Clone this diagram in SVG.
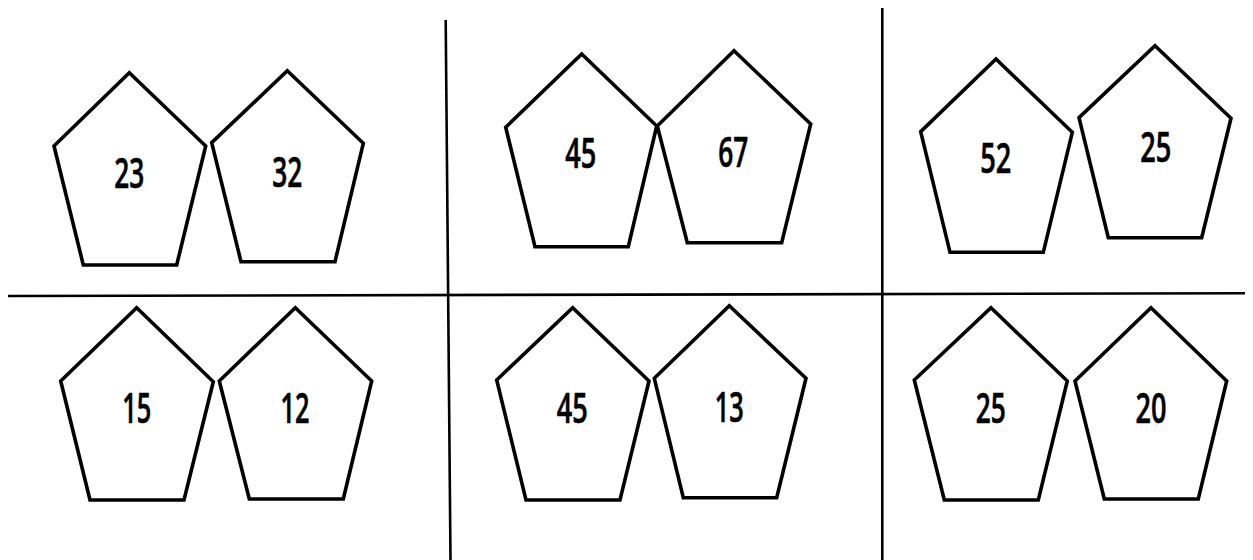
<svg xmlns="http://www.w3.org/2000/svg" width="1253" height="560" viewBox="0 0 1253 560">
<style>
.p{fill:#fff;stroke:#000;stroke-width:3.6;stroke-linejoin:miter}
.t{font-family:"Open Sans","Liberation Sans",sans-serif;font-size:42px;font-weight:600;fill:#000;stroke:#000;stroke-width:0.6;text-anchor:middle}
.l{stroke:#000;stroke-width:2.6;fill:none}
</style>
<rect width="1253" height="560" fill="#fff"/>
<g id="dividers">
<line class="l" x1="8" y1="296" x2="1245" y2="293.3"/>
<line class="l" x1="445.7" y1="20" x2="450.5" y2="560"/>
<line class="l" x1="882.3" y1="8" x2="882.3" y2="560"/>
</g>
<g id="n23"><polygon class="p" points="129.3,72.7 205.7,146 176.7,265 83.3,265 54,146"/><text class="t" x="129.3" y="188" textLength="30" lengthAdjust="spacingAndGlyphs">23</text></g>
<g id="n32"><polygon class="p" points="287.3,70.7 363.3,143.3 335,261.7 241,261.7 211.7,142.7"/><text class="t" x="287.3" y="186.5" textLength="30" lengthAdjust="spacingAndGlyphs">32</text></g>
<g id="n45a"><polygon class="p" points="581.7,54 656.7,126 628.3,246.7 535,246.7 505.7,127.3"/><text class="t" x="580.7" y="168" textLength="31" lengthAdjust="spacingAndGlyphs">45</text></g>
<g id="n67"><polygon class="p" points="734,50.7 810.7,124 781.7,242.7 687.3,242.7 657.3,126"/><text class="t" x="733.3" y="166.5" textLength="30" lengthAdjust="spacingAndGlyphs">67</text></g>
<g id="n52"><polygon class="p" points="996,59 1072.3,132.3 1043.3,252.3 950,252.3 920.7,131.7"/><text class="t" x="995.7" y="173" textLength="31" lengthAdjust="spacingAndGlyphs">52</text></g>
<g id="n25a"><polygon class="p" points="1155,45.7 1231,118.3 1201.7,237.7 1108.3,237.7 1079,117.7"/><text class="t" x="1155.7" y="161.5" textLength="31" lengthAdjust="spacingAndGlyphs">25</text></g>
<g id="n15"><polygon class="p" points="136.7,307.7 213.3,381.7 184,500 90,500 60.7,381"/><text class="t" x="136.7" y="423" textLength="29" lengthAdjust="spacingAndGlyphs">15</text></g>
<g id="n12"><polygon class="p" points="295.3,307.7 371.7,381 343.3,499 249.3,499 219.3,381"/><text class="t" x="295" y="423" textLength="29" lengthAdjust="spacingAndGlyphs">12</text></g>
<g id="n45b"><polygon class="p" points="572.7,307.7 649,381 620,500 526,500 496.7,380"/><text class="t" x="572.3" y="423" textLength="31" lengthAdjust="spacingAndGlyphs">45</text></g>
<g id="n13"><polygon class="p" points="729.3,305.7 806,378.3 776.7,497.7 683.3,497.7 654.3,378.3"/><text class="t" x="729.3" y="421.5" textLength="29" lengthAdjust="spacingAndGlyphs">13</text></g>
<g id="n25b"><polygon class="p" points="991,307.7 1067.3,381 1038.3,500 944.3,500 914.3,380"/><text class="t" x="990.7" y="423" textLength="30" lengthAdjust="spacingAndGlyphs">25</text></g>
<g id="n20"><polygon class="p" points="1151,307.7 1226.7,381 1198.3,499 1104.3,499 1075,381"/><text class="t" x="1151" y="423" textLength="31" lengthAdjust="spacingAndGlyphs">20</text></g>
</svg>
